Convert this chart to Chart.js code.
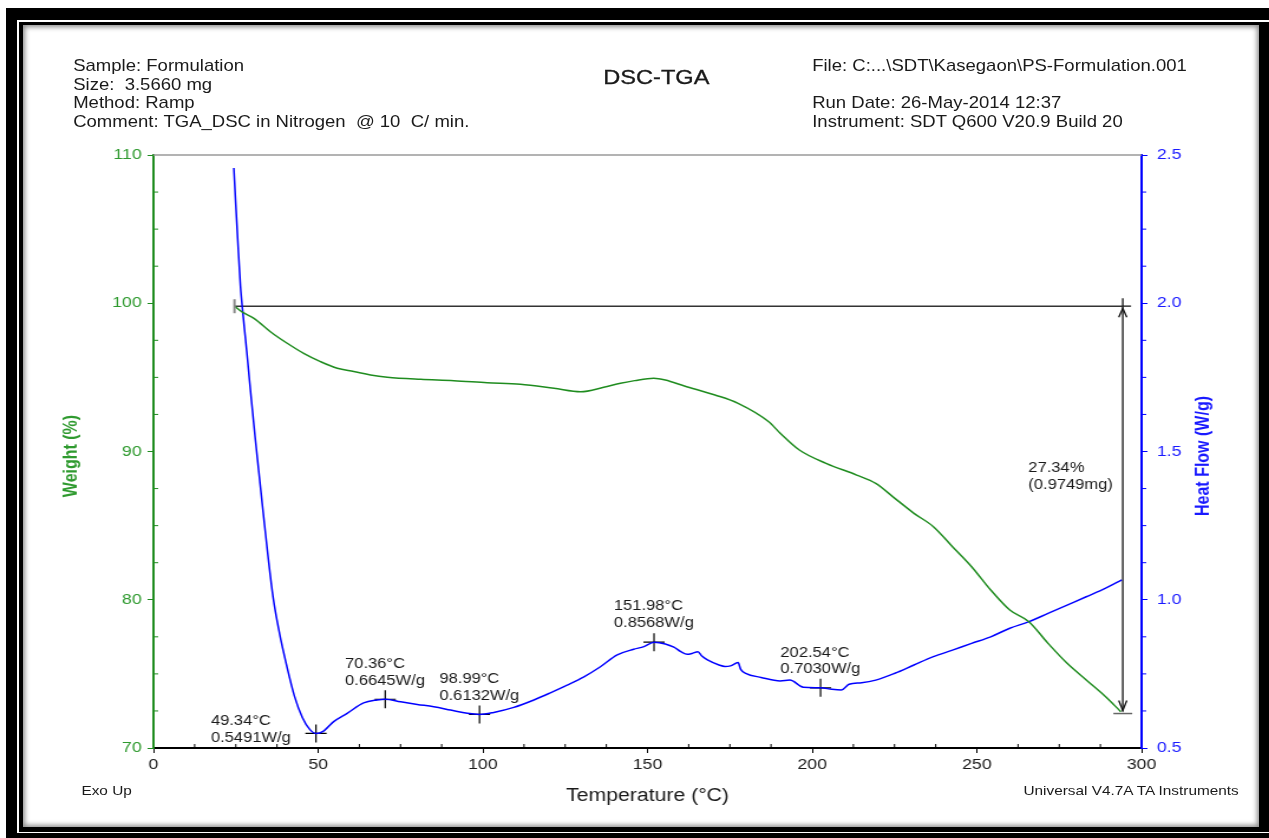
<!DOCTYPE html>
<html><head><meta charset="utf-8">
<script src="https://cdn.jsdelivr.net/npm/chart.js@4.4.1/dist/chart.umd.min.js"></script>
<style>
html,body{margin:0;padding:0;background:#fff;width:1269px;height:838px;overflow:hidden;font-family:"Liberation Sans",Arial,sans-serif;}
.f{position:absolute;}
#wrap{position:absolute;left:0;top:0;width:1075px;height:838px;transform:scaleX(1.1805);transform-origin:0 0;}
#box{position:absolute;left:0;top:0;width:1075px;height:838px;}
.t{position:absolute;color:#1a1a1a;white-space:pre;}
</style></head><body>
<div class="f" style="left:6px;top:8px;width:1263px;height:830px;background:#000"></div>
<div class="f" style="left:17px;top:20px;width:1252px;height:813px;background:#fff"></div>
<div class="f" style="left:19px;top:22px;width:1250px;height:810px;background:#000"></div>
<div class="f" style="left:23px;top:25px;width:1236px;height:802px;background:#fff;box-shadow:inset 0 0 5px 2px rgba(0,0,0,0.45)"></div>
<div id="wrap">
<div id="box"><canvas id="c"></canvas></div>
<div class="t" style="left:62px;top:57px;font-size:15.7px;line-height:18.7px">Sample: Formulation
Size:  3.5660 mg
Method: Ramp
Comment: TGA_DSC in Nitrogen  @ 10  C/ min.</div>
<div class="t" style="left:688px;top:57px;font-size:15.7px;line-height:18.7px">File: C:...\SDT\Kasegaon\PS-Formulation.001
 
Run Date: 26-May-2014 12:37
Instrument: SDT Q600 V20.9 Build 20</div>
<div class="t" style="left:456px;width:200px;text-align:center;top:65px;font-size:20px;line-height:24px;-webkit-text-stroke:0.3px #1a1a1a">DSC-TGA</div>
<div class="t" style="left:69px;top:783px;font-size:13px;line-height:16px">Exo Up</div>
<div class="t" style="left:867px;top:783px;font-size:13px;line-height:16px">Universal V4.7A TA Instruments</div>
</div>
<script>
// ---- data ----
const hfTemp = [24.4,25.0,25.6,26.4,27.2,28.3,29.5,30.8,32.0,33.3,34.8,36.3,38.3,40.4,42.8,45.2,47.5,49.34,51.5,54.7,58.8,63.8,67.9,70.36,75.0,80.1,85.1,90.2,95.3,98.99,103.3,109.4,115.5,120.5,125.6,130.7,135.7,140.8,145.8,148.9,151.98,155.4,158.0,160.1,162.1,163.5,165.3,166.5,168.2,171.7,173.5,175.2,177.5,178.3,179.8,184.5,190.3,193.2,197.3,202.54,206.0,208.9,211.2,215.0,219.3,225.1,230.9,236.8,242.6,248.4,254.2,260.0,265.8,271.6,277.4,283.2,289.1,294.0];
const hfValue = [2.456,2.330,2.210,2.060,1.960,1.840,1.700,1.555,1.430,1.295,1.145,1.010,0.885,0.780,0.675,0.603,0.562,0.5491,0.556,0.589,0.617,0.652,0.662,0.6645,0.656,0.647,0.639,0.628,0.617,0.6132,0.620,0.637,0.662,0.686,0.712,0.740,0.774,0.814,0.833,0.842,0.8568,0.851,0.840,0.825,0.816,0.819,0.825,0.810,0.797,0.780,0.775,0.777,0.788,0.765,0.752,0.738,0.726,0.729,0.705,0.7030,0.698,0.696,0.715,0.720,0.729,0.752,0.780,0.808,0.830,0.853,0.875,0.904,0.926,0.954,0.982,1.010,1.039,1.067];
const wTemp = [24.6,27.0,30.5,35.5,40.6,45.6,50.7,55.8,60.8,65.9,71.0,81.1,91.2,101.3,111.4,121.6,129.7,136.7,141.8,146.1,151.9,155.4,161.2,170.5,177.5,186.8,190.3,196.1,204.2,213.5,219.3,225.1,230.9,236.8,242.6,248.4,254.2,260.0,265.8,271.6,277.4,283.2,289.1,293.7];
const wValue = [99.8,99.4,98.98,98.08,97.30,96.62,96.06,95.61,95.39,95.16,95.01,94.87,94.78,94.64,94.53,94.26,94.03,94.33,94.60,94.78,94.94,94.82,94.42,93.81,93.25,92.01,91.23,90.10,89.20,88.41,87.85,86.84,85.83,84.93,83.58,82.23,80.66,79.31,78.52,77.06,75.71,74.59,73.46,72.45];
const peakTemp = [49.34,70.36,98.99,151.98,202.54];
const peakHF = [0.5491,0.6645,0.6132,0.8568,0.7030];
const stepStartT = 24.6, stepEndT = 294.3;
const stepStartW = 99.8, stepEndW = 72.46;
const stepLossText = ['27.34%','(0.9749mg)'];
const xTicks = [0,300,50], wTicks = [70,110,10], hfTicks = [0.5,2.5,0.5];
// label placement (pixel offsets, not data)
const peakLabelDx = [-89,-34,-34,-34,-34];
const peakLabelDy = [-12,-35,-35,-36,-35];

const GREEN = '#1f8c1f', GREEN_T = '#2f9a2f', BLUE = '#0000ff', BLUE_T = '#1a1aff';
Chart.defaults.font.family = '"Liberation Sans", Arial, sans-serif';

const zip = (a,b)=>a.map((v,i)=>({x:v,y:b[i]}));

const decor = {
  id:'decor',
  afterDraw(chart){
    const {ctx, chartArea:a, scales} = chart;
    const x = scales.x, yW = scales.yW, yH = scales.yH;
    ctx.save();
    ctx.strokeStyle = '#9a9a9a'; ctx.lineWidth = 1.5;
    ctx.beginPath(); ctx.moveTo(a.left, a.top); ctx.lineTo(a.right, a.top); ctx.stroke();
    ctx.lineWidth = 1;
    ctx.strokeStyle = '#000';
    for (let v = xTicks[0]; v <= xTicks[1] + 1e-9; v += xTicks[2]/4) {
      if (Math.abs(v % xTicks[2]) < 1e-6) continue;
      const p = x.getPixelForValue(v);
      ctx.beginPath(); ctx.moveTo(p, a.bottom); ctx.lineTo(p, a.bottom - 4); ctx.stroke();
    }
    ctx.strokeStyle = GREEN;
    for (let v = wTicks[0]; v <= wTicks[1] + 1e-9; v += wTicks[2]/4) {
      if (Math.abs(v % wTicks[2]) < 1e-6) continue;
      const p = yW.getPixelForValue(v);
      ctx.beginPath(); ctx.moveTo(a.left, p); ctx.lineTo(a.left + 4, p); ctx.stroke();
    }
    ctx.strokeStyle = BLUE;
    for (let v = hfTicks[0]; v <= hfTicks[1] + 1e-9; v += hfTicks[2]/4) {
      const r = v / hfTicks[2];
      if (Math.abs(r - Math.round(r)) < 1e-6) continue;
      const p = yH.getPixelForValue(v);
      ctx.beginPath(); ctx.moveTo(a.right, p); ctx.lineTo(a.right + 4, p); ctx.stroke();
    }
    ctx.font = 'bold 16px "Liberation Sans", Arial, sans-serif';
    ctx.textAlign = 'center'; ctx.textBaseline = 'middle';
    ctx.fillStyle = GREEN_T;
    ctx.save(); ctx.translate(61, 456); ctx.rotate(-Math.PI/2); ctx.fillText('Weight (%)', 0, 0); ctx.restore();
    ctx.fillStyle = BLUE_T;
    ctx.save(); ctx.translate(1020, 456); ctx.rotate(-Math.PI/2); ctx.fillText('Heat Flow (W/g)', 0, 0); ctx.restore();
    ctx.font = '14px "Liberation Sans", Arial, sans-serif';
    ctx.textAlign = 'left'; ctx.fillStyle = '#1a1a1a';
    peakTemp.forEach((t, i) => {
      const px = x.getPixelForValue(t), py = yH.getPixelForValue(peakHF[i]);
      ctx.fillText(t.toFixed(2) + '°C', px + peakLabelDx[i], py + peakLabelDy[i]);
      ctx.fillText(peakHF[i].toFixed(4) + 'W/g', px + peakLabelDx[i], py + peakLabelDy[i] + 16.7);
    });
    const sx0 = x.getPixelForValue(stepStartT), sx1 = x.getPixelForValue(stepEndT);
    const sy0 = yW.getPixelForValue(stepStartW), sy1 = yW.getPixelForValue(stepEndW);
    ctx.fillText(stepLossText[0], sx1 - 80, (sy0 + sy1)/2 - 41);
    ctx.fillText(stepLossText[1], sx1 - 80, (sy0 + sy1)/2 - 24);
    ctx.strokeStyle = '#888'; ctx.lineWidth = 2;
    ctx.beginPath(); ctx.moveTo(sx0, sy0 - 7); ctx.lineTo(sx0, sy0 + 7); ctx.stroke();
    ctx.strokeStyle = '#666'; ctx.lineWidth = 1.5;
    ctx.beginPath(); ctx.moveTo(sx1 - 8, sy1 + 2); ctx.lineTo(sx1 + 8, sy1 + 2); ctx.stroke();
    ctx.strokeStyle = '#111'; ctx.lineWidth = 1.3;
    ctx.beginPath();
    ctx.moveTo(sx1, sy0 - 8); ctx.lineTo(sx1, sy0);
    ctx.moveTo(sx1, sy0); ctx.lineTo(sx1 + 7, sy0);
    ctx.moveTo(sx1 - 3.4, sy0 + 11); ctx.lineTo(sx1, sy0 + 2); ctx.lineTo(sx1 + 3.4, sy0 + 11);
    ctx.moveTo(sx1 - 3.4, sy1 - 11); ctx.lineTo(sx1, sy1 - 1); ctx.lineTo(sx1 + 3.4, sy1 - 11);
    ctx.stroke();
    ctx.restore();
  }
};

new Chart(document.getElementById('c'), {
  type: 'line',
  data: {
    datasets: [
      { label:'Weight', data: zip(wTemp, wValue), yAxisID:'yW', borderColor: GREEN, borderWidth:1.5, pointRadius:0, cubicInterpolationMode:'monotone', fill:false },
      { label:'Heat Flow', data: zip(hfTemp, hfValue), yAxisID:'yH', borderColor: BLUE, borderWidth:1.5, pointRadius:0, cubicInterpolationMode:'monotone', fill:false },
      { label:'step', data: [{x:stepStartT,y:stepStartW},{x:stepEndT,y:stepStartW}], yAxisID:'yW', borderColor:'#333', borderWidth:1.6, pointRadius:0 },
      { label:'loss', data: [{x:stepEndT,y:stepStartW},{x:stepEndT,y:stepEndW}], yAxisID:'yW', borderColor:'#111', borderWidth:1.3, pointRadius:0 },
      { label:'peaks', data: zip(peakTemp, peakHF), yAxisID:'yH', showLine:false, pointStyle:'cross', pointRadius:9, borderColor:'#000', borderWidth:1.2 }
    ]
  },
  options: {
    responsive:true, maintainAspectRatio:false, animation:false,
    layout:{ padding:{ top:155, left:0, right:0, bottom:0 } },
    plugins:{ legend:{display:false}, tooltip:{enabled:false} },
    events: [],
    scales:{
      x:{ type:'linear', min:xTicks[0], max:xTicks[1],
          afterFit:(s)=>{ s.height = 90; },
          ticks:{ stepSize:xTicks[2], color:'#1a1a1a', font:{size:15}, padding:3, maxRotation:0 },
          grid:{ display:true, drawOnChartArea:false, drawTicks:true, tickLength:5, tickColor:'#000', tickWidth:1 },
          border:{ display:true, color:'#000', width:2 },
          title:{ display:true, text:'Temperature (°C)', color:'#1a1a1a', font:{size:18}, padding:{top:0,bottom:31} } },
      yW:{ type:'linear', position:'left', min:wTicks[0], max:wTicks[1],
          afterFit:(s)=>{ s.width = 130; },
          ticks:{ stepSize:wTicks[2], color:GREEN_T, font:{size:15}, padding:5 },
          grid:{ display:true, drawOnChartArea:false, drawTicks:true, tickLength:5, tickColor:GREEN, tickWidth:1 },
          border:{ display:true, color:GREEN, width:2 } },
      yH:{ type:'linear', position:'right', min:hfTicks[0], max:hfTicks[1],
          afterFit:(s)=>{ s.width = 108; },
          ticks:{ stepSize:hfTicks[2], color:BLUE_T, font:{size:15}, padding:8, callback:(v)=>Number(v).toFixed(1) },
          grid:{ display:true, drawOnChartArea:false, drawTicks:true, tickLength:5, tickColor:BLUE, tickWidth:1 },
          border:{ display:true, color:BLUE, width:2 } }
    }
  },
  plugins:[decor]
});
</script>
</body></html>
